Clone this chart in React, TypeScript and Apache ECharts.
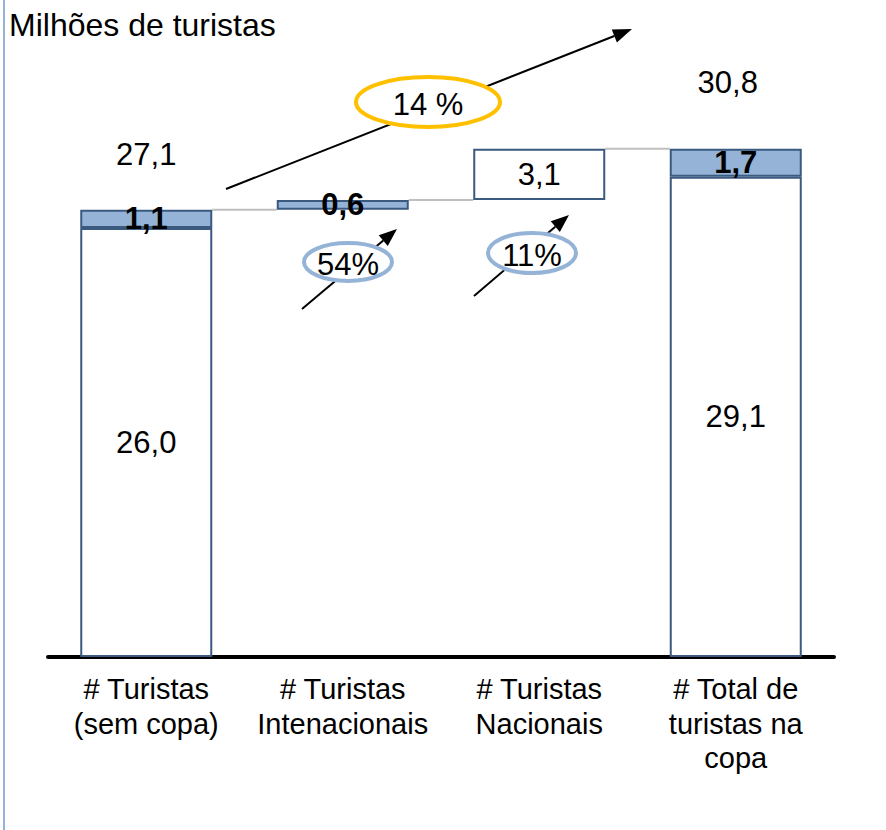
import React, { useEffect, useRef } from "react";
import * as echarts from "echarts";

const categories = [
  "# Turistas\n(sem copa)",
  "# Turistas\nIntenacionais",
  "# Turistas\nNacionais",
  "# Total de\nturistas na\ncopa",
];
const baseValues = [0, 27.1, 27.7, 0];
const nationalValues: (number | null)[] = [26.0, null, 3.1, 29.1];
const internationalValues: (number | null)[] = [1.1, 0.6, null, 1.7];
const totalLabels: (number | null)[] = [27.1, null, null, 30.8];
const growthLabels = ["14 %", "54%", "11%"];
const title = "Milhões de turistas";

const FONT = "'Liberation Sans', Arial, sans-serif";
const BLUE = "#95B3D7";
const EDGE = "#3A5A80";
const FS = 31;

const fmt = (v: number) => v.toFixed(1).replace(".", ",");

function arrow(x1: number, y1: number, x2: number, y2: number, head: number, w: number, lw: number) {
  const dx = x2 - x1;
  const dy = y2 - y1;
  const L = Math.hypot(dx, dy);
  const ux = dx / L;
  const uy = dy / L;
  const bx = x2 - ux * head;
  const by = y2 - uy * head;
  const px = -uy;
  const py = ux;
  return [
    {
      type: "line",
      shape: { x1, y1, x2: bx, y2: by },
      style: { stroke: "#000", lineWidth: lw },
      z: 10,
    },
    {
      type: "polygon",
      shape: {
        points: [
          [x2, y2],
          [bx + (px * w) / 2, by + (py * w) / 2],
          [bx - (px * w) / 2, by - (py * w) / 2],
        ],
      },
      style: { fill: "#000" },
      z: 10,
    },
  ];
}

function ellipseLabel(cx: number, cy: number, rx: number, ry: number, color: string, text: string, ty: number) {
  return [
    {
      type: "ellipse",
      shape: { cx, cy, rx, ry },
      style: { fill: "#fff", stroke: color, lineWidth: 4 },
      z: 11,
    },
    {
      type: "text",
      x: cx,
      y: ty,
      style: {
        text,
        fill: "#000",
        font: `${FS}px ${FONT}`,
        align: "center",
        verticalAlign: "middle",
      },
      z: 12,
    },
  ];
}

export default function App() {
  const ref = useRef<HTMLDivElement>(null);
  useEffect(() => {
    if (!ref.current) return;
    const chart = echarts.init(ref.current, null, { renderer: "svg" });
    const tops = baseValues.map(
      (b, i) => b + (nationalValues[i] ?? 0) + (internationalValues[i] ?? 0)
    );
    const connectors = [0, 1, 2].map((i) => [i, tops[i]]);
    const BAR_W = 132;

    const labelStyle = {
      show: true,
      position: "inside",
      color: "#000",
      fontFamily: FONT,
      fontSize: FS,
      textBorderWidth: 0,
    };

    const option: any = {
      animation: false,
      backgroundColor: "#fff",
      title: {
        text: title,
        left: 4,
        top: 4,
        textStyle: { fontFamily: FONT, fontSize: 32, fontWeight: "normal", color: "#000" },
      },
      grid: { left: 48, width: 786, top: 63, bottom: 173, containLabel: false },
      xAxis: {
        type: "category",
        data: categories,
        axisLine: { show: true, lineStyle: { color: "#000", width: 4 } },
        axisTick: { show: false },
        axisLabel: {
          interval: 0,
          margin: 15,
          color: "#000",
          fontFamily: FONT,
          fontSize: 29,
          lineHeight: 34.5,
        },
      },
      yAxis: { type: "value", min: 0, max: 36, show: false },
      series: [
        {
          name: "base",
          type: "bar",
          stack: "w",
          barWidth: BAR_W,
          silent: true,
          itemStyle: { color: "transparent", borderWidth: 0 },
          data: baseValues,
        },
        {
          name: "Nacionais",
          type: "bar",
          stack: "w",
          barWidth: BAR_W,
          itemStyle: { color: "#fff", borderColor: EDGE, borderWidth: 2 },
          label: { ...labelStyle, formatter: (p: any) => fmt(p.value) },
          data: nationalValues.map((v) => (v == null ? "-" : v)),
        },
        {
          name: "Internacionais",
          type: "bar",
          stack: "w",
          barWidth: BAR_W,
          itemStyle: { color: BLUE, borderColor: EDGE, borderWidth: 2 },
          label: { ...labelStyle, fontWeight: "bold", formatter: (p: any) => fmt(p.value) },
          data: internationalValues.map((v) => (v == null ? "-" : v)),
        },
        {
          name: "connectors",
          type: "custom",
          silent: true,
          z: 1,
          renderItem: (params: any, api: any) => {
            const p = api.coord([api.value(0), api.value(1)]);
            const band = api.size([1, 0])[0];
            return {
              type: "line",
              shape: { x1: p[0] + BAR_W / 2, y1: p[1], x2: p[0] + band - BAR_W / 2, y2: p[1] },
              style: { stroke: "#BFBFBF", lineWidth: 2 },
            };
          },
          data: connectors,
        },
        {
          name: "totals",
          type: "scatter",
          symbolSize: 0,
          silent: true,
          itemStyle: { color: "#000", opacity: 1 },
          label: { ...labelStyle, formatter: (p: any) => fmt(p.value[1]) },
          data: totalLabels
            .map((v, i) =>
              v == null
                ? null
                : {
                    value: [i, v],
                    label: { offset: i === 0 ? [0, -55] : [-8, -66] },
                  }
            )
            .filter((d) => d != null),
        },
      ],
      graphic: [
        {
          type: "rect",
          shape: { x: 3, y: 0, width: 2, height: 830 },
          style: { fill: BLUE },
        },
        ...arrow(226, 189, 632, 29, 19, 14, 2),
        ...arrow(302, 309, 397, 229, 18, 14, 2),
        ...arrow(474, 296, 569, 215, 18, 14, 2),
        ...ellipseLabel(428, 102, 72, 25, "#FFC000", growthLabels[0], 104),
        ...ellipseLabel(348, 262, 44, 19, BLUE, growthLabels[1], 264),
        ...ellipseLabel(532, 253, 44, 20, BLUE, growthLabels[2], 255),
      ],
    };
    chart.setOption(option);
    return () => chart.dispose();
  }, []);
  return (
    <div
      ref={ref}
      style={{ position: "absolute", left: 0, top: 0, width: 886, height: 830 }}
    />
  );
}
